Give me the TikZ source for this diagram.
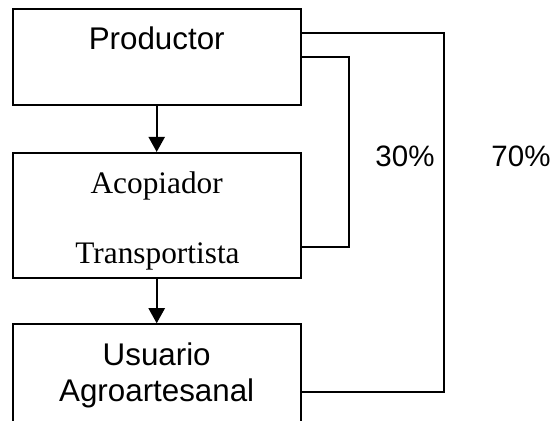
\documentclass[tikz,border=0pt]{standalone}
\usepackage{fontspec}
\usepackage{tikz}
\usetikzlibrary{positioning,arrows.meta}
\newfontfamily\sansarial{Liberation Sans}
\newfontfamily\seriftimes{Liberation Serif}

\begin{document}
\begin{tikzpicture}[x=0.383pt,y=-0.383pt,line width=0.8pt,
    box/.style={draw,minimum width=110.3pt,inner sep=0pt},
    sanslbl/.style={anchor=base,inner sep=0pt,font=\sansarial\fontsize{12}{14}\selectfont},
    seriflbl/.style={anchor=base,inner sep=0pt,font=\seriftimes\fontsize{12}{14}\selectfont},
    pctlbl/.style={anchor=base,inner sep=0pt,font=\sansarial\fontsize{11.3}{13}\selectfont},
    arr/.style={-{Triangle[length=5.8pt,width=6.2pt]}}]

    \useasboundingbox (0,0) rectangle (555,420);

    % boxes
    \node[box,minimum height=36.65pt] (prod) at (156.7,56.85) {};
    \node[box,minimum height=47.9pt]  (acop) at (156.7,215.5) {};
    \node[box,minimum height=38.5pt]  (usu)  at (156.7,374.6) {};

    % texts
    \node[sanslbl]  (prodtxt)  at (156.7,49.3)  {Productor};
    \node[seriflbl] (acoptxt)  at (156.7,193.3) {Acopiador};
    \node[seriflbl] (transtxt) at (157.5,263.3) {Transportista};
    \node[sanslbl]  (usutxt)   at (156.7,365)   {Usuario};
    \node[sanslbl]  (agrotxt)  at (156.7,401.7) {Agroartesanal};

    % main flow
    \draw[arr] (prod) -- (acop);
    \draw[arr] (acop) -- (usu);

    % 30%
    \coordinate (t30) at (349,57);
    \coordinate (b30) at (349,247);
    \draw (prod.east |- t30) -- (t30) -- (b30) -- (acop.east |- b30);
    \node[pctlbl] (p30) at (405,166.7) {30\%};

    % 70%
    \coordinate (t70) at (444.3,33);
    \coordinate (b70) at (444.3,391.7);
    \draw (prod.east |- t70) -- (t70) -- (b70) -- (usu.east |- b70);
    \node[pctlbl] (p70) at (521,166.7) {70\%};

\end{tikzpicture}
\end{document}
